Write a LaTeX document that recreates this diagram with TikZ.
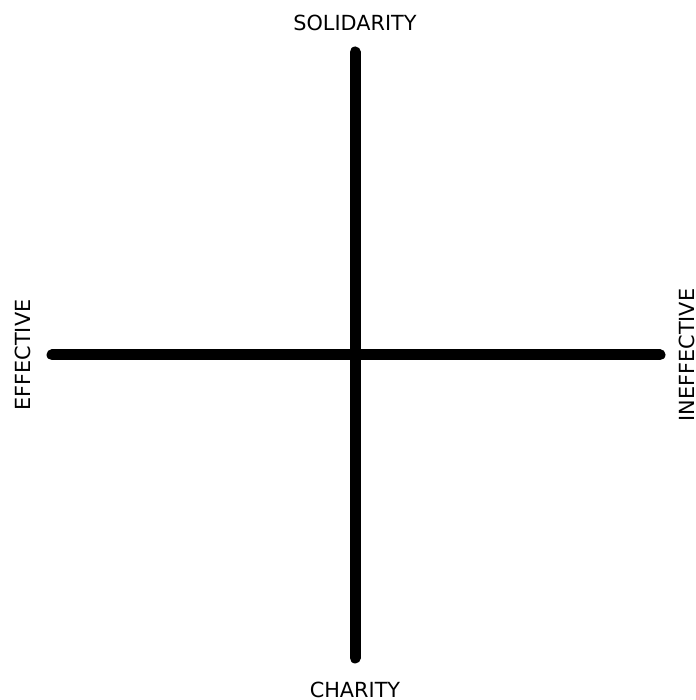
\documentclass[tikz,border=0pt]{standalone}
\usepackage{fontspec}
\setmainfont{DejaVu Sans}
\usepackage{tikz}
\usetikzlibrary{positioning}

\begin{document}
\begin{tikzpicture}[x=1pt, y=1pt,
    axis/.style = {line width=11pt, line cap=round},
    lbl/.style = {inner sep=0pt, font=\fontsize{20.8}{25}\selectfont}]
    \useasboundingbox (0,0) rectangle (695,700);
    \coordinate (top) at (355,648);
    \coordinate (bot) at (355,42);
    \coordinate (left) at (52,345);
    \coordinate (right) at (660,345);
    \node[lbl] (sol) at (355,677.5) {SOLIDARITY};
    \node[lbl] (cha) at (355,10) {CHARITY};
    \node[lbl, rotate=90] (eff) at (23,345) {EFFECTIVE};
    \node[lbl, rotate=90] (ineff) at (687,345) {INEFFECTIVE};
    \draw[axis] (top) -- (bot);
    \draw[axis] (left) -- (right);
\end{tikzpicture}
\end{document}
